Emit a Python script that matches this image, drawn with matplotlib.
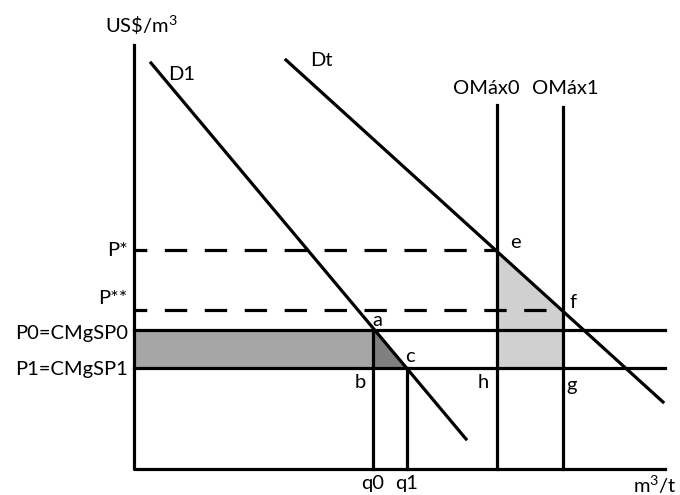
import numpy as np
import matplotlib.pyplot as plt

plt.rcParams['font.family'] = ['Lato', 'DejaVu Sans']
plt.rcParams['mathtext.fontset'] = 'custom'
plt.rcParams['mathtext.rm'] = 'Lato'
plt.rcParams['mathtext.it'] = 'Lato'

# axis extents (schematic units)
x_max = 531
y_max = 424

# price levels
p_star = 219
p_2star = 159
p0 = 139
p1 = 101
price_labels = ['P*', 'P**', 'P0=CMgSP0', 'P1=CMgSP1']
price_levels = [p_star, p_2star, p0, p1]

# quantities
q0 = 239
q1 = 273
omax0 = 363
omax1 = 429
omax_top = [364, 362]

# demand curves (endpoints)
d1_x = [17, 332]
d1_y = [406, 30]
dt_x = [152, 529]
dt_y = [409, 67]


def on_line(xs, ys, y):
    # x on a straight line for a given y
    return xs[0] + (y - ys[0]) * (xs[1] - xs[0]) / (ys[1] - ys[0])


fig = plt.figure(figsize=(6.8, 4.95), dpi=100)
ax = fig.add_axes([0, 0, 1, 1])
ax.set_xlim(-134, 546)
ax.set_ylim(-26, 469)
ax.axis('off')

lw = 2.3
fs = 14.5
dash = (3, (7, 5.5))

# shaded areas
ax.fill_between([0, q0], p1, p0, color='#a6a6a6', lw=0, zorder=1)
xc = on_line(d1_x, d1_y, p1)
ax.fill([q0, q0, xc], [p0, p1, p1], color='#7f7f7f', lw=0, zorder=1)
xe = on_line(dt_x, dt_y, p_star)
xf = on_line(dt_x, dt_y, p_2star)
ax.fill([omax0, omax0, omax1, omax1, xe], [p_star, p1, p1, p_2star, p_star],
        color='#d0d0d0', lw=0, zorder=1)

# axes
ax.plot([0, 0, x_max], [y_max, 0, 0], color='black', lw=lw, zorder=3)

# price lines
ax.plot([0, xe], [p_star, p_star], color='black', lw=lw, ls=dash, zorder=2)
ax.plot([0, xf], [p_2star, p_2star], color='black', lw=lw, ls=dash, zorder=2)
ax.plot([0, x_max], [p0, p0], color='black', lw=lw, zorder=2)
ax.plot([0, x_max], [p1, p1], color='black', lw=lw, zorder=2)

# verticals
ax.plot([q0, q0], [0, p0], color='black', lw=lw, zorder=2)
ax.plot([q1, q1], [0, p1], color='black', lw=lw, zorder=2)
ax.plot([omax0, omax0], [0, omax_top[0]], color='black', lw=lw, zorder=2)
ax.plot([omax1, omax1], [0, omax_top[1]], color='black', lw=lw, zorder=2)

# demand
ax.plot(d1_x, d1_y, color='black', lw=lw, zorder=3)
ax.plot(dt_x, dt_y, color='black', lw=lw, zorder=3)

# text
ax.text(-29, 444, r'US\$/m$^{3}$', fontsize=fs, va='center', ha='left')
ax.text(34, 395, 'D1', fontsize=fs, va='center', ha='left')
ax.text(176, 408, 'Dt', fontsize=fs, va='center', ha='left')
ax.text(omax0 - 11, 381, 'OMáx0', fontsize=fs, va='center', ha='center')
ax.text(omax1 + 2, 381, 'OMáx1', fontsize=fs, va='center', ha='center')

for lab, p, dy in zip(price_labels, price_levels, [0, 11, -4, -1]):
    ax.text(-6, p + dy, lab, fontsize=fs, va='center', ha='right')

ax.text(376, 227, 'e', fontsize=fs, va='center', ha='left')
ax.text(436, 166, 'f', fontsize=fs, va='center', ha='left')
ax.text(243, 149, 'a', fontsize=fs, va='center', ha='center')
ax.text(276, 112, 'c', fontsize=fs, va='center', ha='center')
ax.text(226, 86, 'b', fontsize=fs, va='center', ha='center')
ax.text(349, 86, 'h', fontsize=fs, va='center', ha='center')
ax.text(438, 84, 'g', fontsize=fs, va='center', ha='center')
ax.text(q0, -14, 'q0', fontsize=fs, va='center', ha='center')
ax.text(q1, -14, 'q1', fontsize=fs, va='center', ha='center')
ax.text(521, -16, r'm$^{3}$/t', fontsize=fs, va='center', ha='center')

fig.savefig('out.png', dpi=100)
